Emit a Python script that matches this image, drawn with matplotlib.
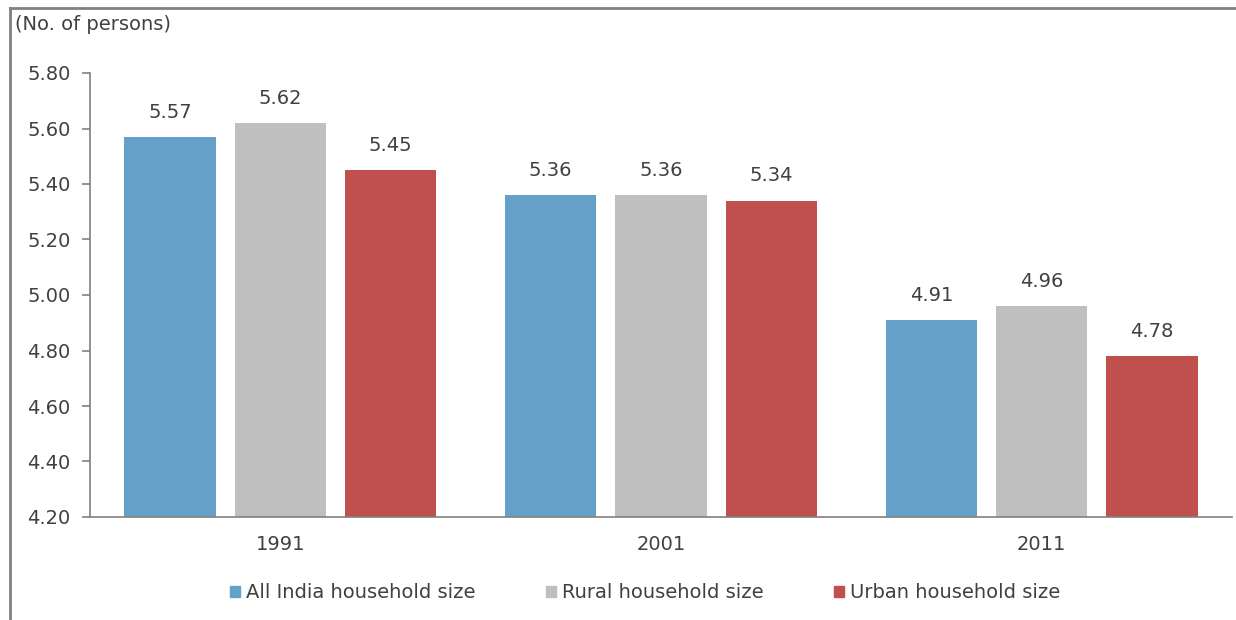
import numpy as np
import matplotlib.pyplot as plt
from matplotlib.lines import Line2D

# census years and household sizes
years = ['1991', '2001', '2011']
all_india = [5.57, 5.36, 4.91]
rural = [5.62, 5.36, 4.96]
urban = [5.45, 5.34, 4.78]
series_names = ['All India household size', 'Rural household size', 'Urban household size']
colors = ['#64A0C8', '#BFBFBF', '#C0504D']
y_ticks = [4.20, 4.40, 4.60, 4.80, 5.00, 5.20, 5.40, 5.60, 5.80]

plt.rcParams['font.family'] = ['DejaVu Sans']
text_color = '#404040'

fig = plt.figure(figsize=(12.36, 6.2), dpi=100)
ax = fig.add_axes([90 / 1236, 103 / 620, 1142 / 1236, 444 / 620])

x = np.arange(len(years))
width = 0.24
pitch = 0.29
for i, (vals, name, c) in enumerate(zip([all_india, rural, urban], series_names, colors)):
    bars = ax.bar(x + (i - 1) * pitch, vals, width, color=c, label=name)
    for b, v in zip(bars, vals):
        ax.annotate(f'{v:.2f}', (b.get_x() + b.get_width() / 2, v),
                    xytext=(0, 11), textcoords='offset points',
                    ha='center', va='bottom', fontsize=14, color=text_color)

ax.set_xlim(-0.5, 2.5)
ax.set_ylim(4.2, 5.8)
ax.set_yticks(y_ticks)
ax.set_yticklabels([f'{t:.2f}' for t in y_ticks])
ax.set_xticks(x)
ax.set_xticklabels(years)
ax.tick_params(axis='y', length=6, width=1.2, color='#808080', labelsize=14,
               labelcolor=text_color, pad=8)
ax.tick_params(axis='x', length=0, labelsize=14, labelcolor=text_color, pad=13)
for s in ['top', 'right']:
    ax.spines[s].set_visible(False)
for s in ['left', 'bottom']:
    ax.spines[s].set_color('#808080')
    ax.spines[s].set_linewidth(1.2)

fig.text(15 / 1236, 1 - 25 / 620, '(No. of persons)', fontsize=14,
         color=text_color, va='center', ha='left')

# legend below the plot
handles = [plt.Rectangle((0, 0), 1, 1, color=c) for c in colors]
fig.legend(handles, series_names, loc='center', bbox_to_anchor=(645 / 1236, 1 - 593 / 620),
           ncol=3, frameon=False, fontsize=14, handlelength=0.55, handleheight=0.55,
           handletextpad=0.3, columnspacing=3.6, labelcolor=text_color)

# outer frame: top and left lines only
fig.add_artist(Line2D([10 / 1236, 1], [1 - 8 / 620, 1 - 8 / 620], color='#808080',
                      lw=2, transform=fig.transFigure))
fig.add_artist(Line2D([10 / 1236, 10 / 1236], [0, 1 - 8 / 620], color='#808080',
                      lw=2, transform=fig.transFigure))

fig.savefig('out.png', dpi=100)
